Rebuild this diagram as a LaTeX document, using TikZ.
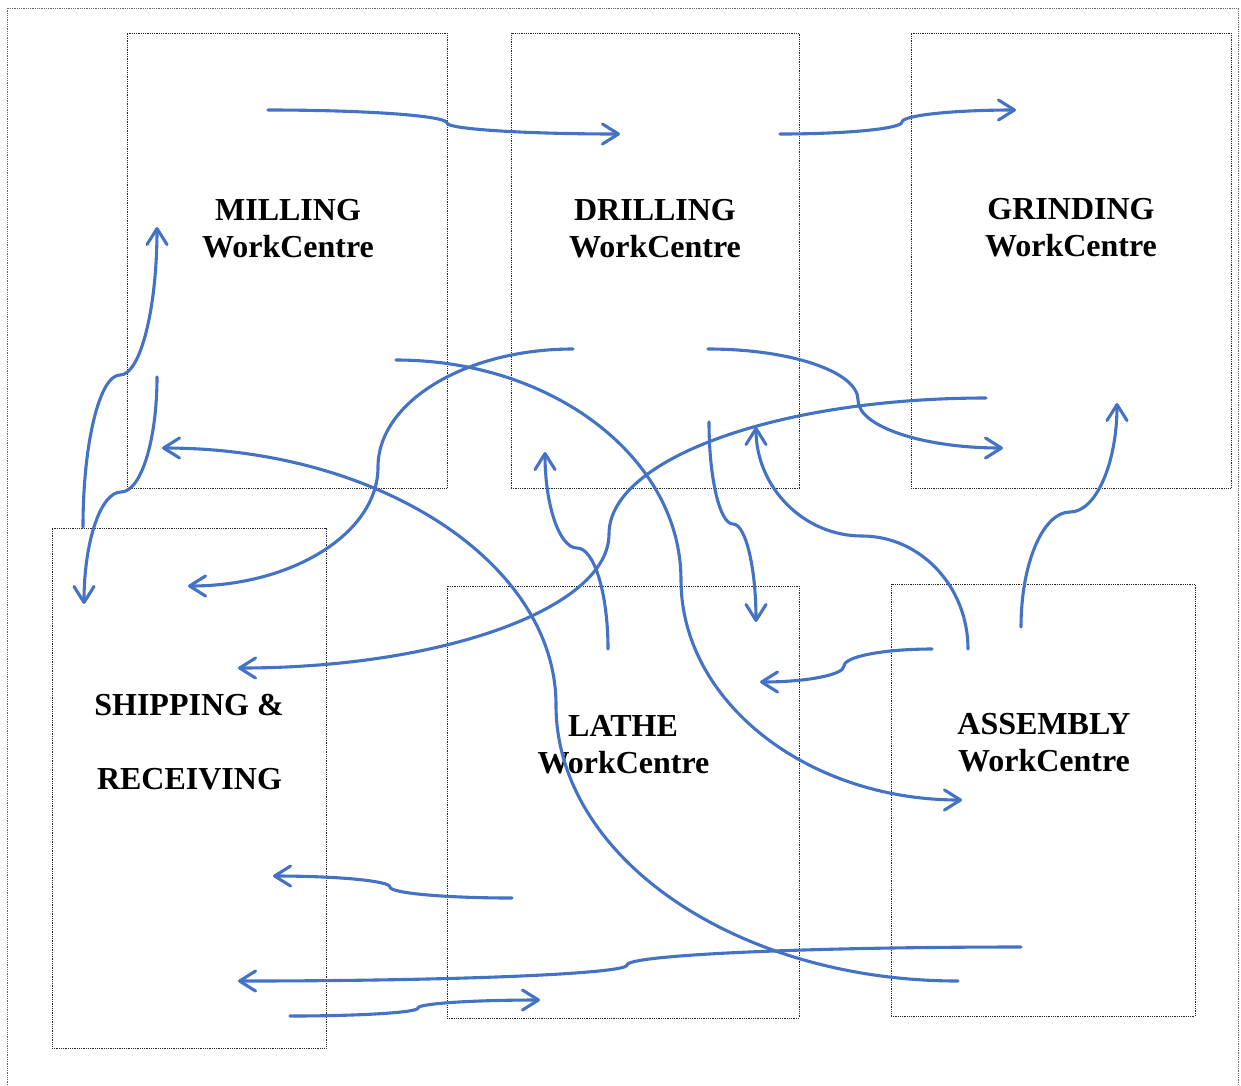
\documentclass[tikz,border=0pt]{standalone}
\usepackage{fontspec}
\setmainfont{Liberation Serif}
\usetikzlibrary{calc,arrows.meta}
\definecolor{flowblue}{RGB}{68,114,196}
\tikzset{
  flow/.style={draw=flowblue, line width=3.1pt, line cap=round,
    -{Straight Barb[length=16pt,width=20pt,line cap=round,line join=round]}},
  wcbox/.style={draw=black!85, line width=0.8pt, dash pattern=on 0.9pt off 0.9pt,
    inner sep=0pt, outer sep=0pt},
  lbl/.style={font=\fontsize{32}{37}\selectfont\bfseries, inner sep=0pt, anchor=base},
}
% horizontal tangents at the ends, vertical tangent at the middle point
\newcommand{\hflow}[3]{%
  \draw[flow] (#1) .. controls ($(#1)!0.552!(#1 -| #2)$) and ($(#2)!0.552!(#1 -| #2)$) .. (#2)
     .. controls ($(#2)!0.552!(#3 -| #2)$) and ($(#3)!0.552!(#3 -| #2)$) .. (#3);}
% vertical tangents at the ends, horizontal tangent at the middle point
\newcommand{\vflow}[3]{%
  \draw[flow] (#1) .. controls ($(#1)!0.552!(#1 |- #2)$) and ($(#2)!0.552!(#1 |- #2)$) .. (#2)
     .. controls ($(#2)!0.552!(#3 |- #2)$) and ($(#3)!0.552!(#3 |- #2)$) .. (#3);}
\begin{document}
\begin{tikzpicture}[x=1pt,y=-1pt]
\useasboundingbox (0,0) rectangle (1241,1085);
% outer frame (open at the bottom)
\coordinate (fbl) at (7,1085); \coordinate (ftl) at (7,8);
\coordinate (ftr) at (1238,8); \coordinate (fbr) at (1238,1085);
\draw[wcbox, draw=black!60] (fbl) -- (ftl) -- (ftr) -- (fbr);
% work centre boxes
\node[wcbox, minimum width=320pt, minimum height=455pt] (mill) at (287,260.5) {};
\node[wcbox, minimum width=288pt, minimum height=455pt] (drill) at (655,260.5) {};
\node[wcbox, minimum width=320pt, minimum height=455pt] (grind) at (1071,260.5) {};
\node[wcbox, minimum width=274pt, minimum height=520pt] (ship) at (189,788) {};
\node[wcbox, minimum width=352pt, minimum height=432pt] (lathe) at (623,802) {};
\node[wcbox, minimum width=304pt, minimum height=432pt] (assy) at (1043,800) {};
% labels
\node[lbl] (millA) at (288,220) {MILLING};
\node[lbl] (millB) at (288,257) {WorkCentre};
\node[lbl] (drillA) at (655,220) {DRILLING};
\node[lbl] (drillB) at (655,257) {WorkCentre};
\node[lbl] (grindA) at (1071,219) {GRINDING};
\node[lbl] (grindB) at (1071,256) {WorkCentre};
\node[lbl] (shipA) at (189,715) {SHIPPING \&};
\node[lbl] (shipB) at (189.5,789) {RECEIVING};
\node[lbl] (latheA) at (623,736) {LATHE};
\node[lbl] (latheB) at (623.5,773) {WorkCentre};
\node[lbl] (assyA) at (1044,734) {ASSEMBLY};
\node[lbl] (assyB) at (1044,771) {WorkCentre};
% connector points: s = start, m = bend, e = arrow end
\coordinate (s1) at (268,110);  \coordinate (m1) at (447,123);  \coordinate (e1) at (620,134);
\coordinate (s2) at (780,134);  \coordinate (m2) at (902,122);  \coordinate (e2) at (1016,110);
\coordinate (s3) at (83,527);   \coordinate (m3) at (120,375);  \coordinate (e3) at (157,227);
\coordinate (s4) at (157,377);  \coordinate (m4) at (121,492);  \coordinate (e4) at (84,604);
\coordinate (s5) at (573,349);  \coordinate (m5) at (378,467);  \coordinate (e5) at (188,586);
\coordinate (s6) at (396,360);  \coordinate (m6) at (681,580);  \coordinate (e6) at (962,800);
\coordinate (s7) at (958,981);  \coordinate (m7) at (556,705);  \coordinate (e7) at (162,448);
\coordinate (s8) at (986,398);  \coordinate (m8) at (609,534);  \coordinate (e8) at (238,668);
\coordinate (s9) at (708,349);  \coordinate (m9) at (858,400);  \coordinate (e9) at (1003,448);
\coordinate (s10) at (608,649); \coordinate (m10) at (577,548); \coordinate (e10) at (545,452);
\coordinate (s11) at (709,422); \coordinate (m11) at (733,524); \coordinate (e11) at (756,622);
\coordinate (s12) at (968,649); \coordinate (m12) at (862,536); \coordinate (e12) at (756,427);
\coordinate (s13) at (1021,627); \coordinate (m13) at (1070,512); \coordinate (e13) at (1117,403);
\coordinate (s14) at (932,649); \coordinate (m14) at (844,666); \coordinate (e14) at (760,682);
\coordinate (s15) at (512,898); \coordinate (m15) at (390,887); \coordinate (e15) at (273,876);
\coordinate (s16) at (1021,947); \coordinate (m16) at (627,965); \coordinate (e16) at (238,981);
\coordinate (s17) at (290,1016); \coordinate (m17) at (418,1008); \coordinate (e17) at (540,1000);
% connectors
\hflow{s1}{m1}{e1}
\hflow{s2}{m2}{e2}
\vflow{s3}{m3}{e3}
\vflow{s4}{m4}{e4}
\hflow{s5}{m5}{e5}
\hflow{s6}{m6}{e6}
\hflow{s7}{m7}{e7}
\hflow{s8}{m8}{e8}
\hflow{s9}{m9}{e9}
\vflow{s10}{m10}{e10}
\vflow{s11}{m11}{e11}
\vflow{s12}{m12}{e12}
\vflow{s13}{m13}{e13}
\hflow{s14}{m14}{e14}
\hflow{s15}{m15}{e15}
\hflow{s16}{m16}{e16}
\hflow{s17}{m17}{e17}
\end{tikzpicture}
\end{document}
